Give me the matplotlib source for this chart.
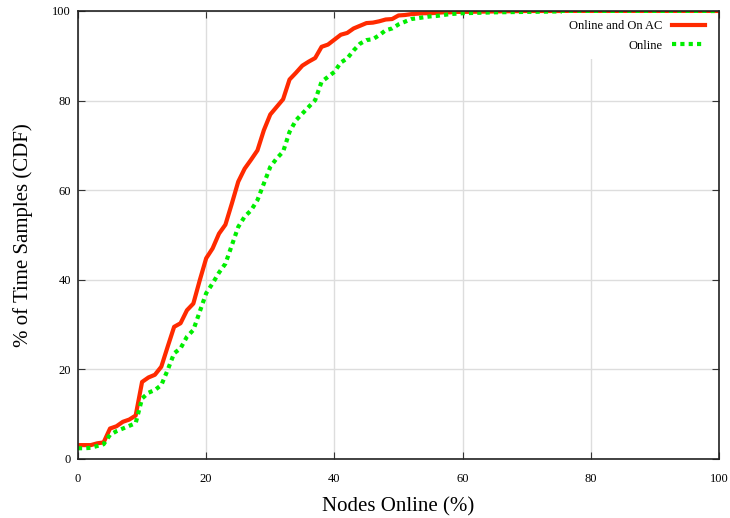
import numpy as np
import matplotlib
matplotlib.use("Agg")
import matplotlib.pyplot as plt

plt.rcParams['font.family'] = ['Liberation Serif', 'DejaVu Serif']

nodes_ac = list(range(0, 61)) + [65, 70, 100]
cdf_ac = [3.1, 3.1, 3.1, 3.5, 3.7, 6.8, 7.3, 8.3, 8.8, 9.7,
          17.2, 18.2, 18.8, 20.6, 25.1, 29.5, 30.3, 33.2, 34.7, 39.9,
          44.8, 47.0, 50.3, 52.3, 57.0, 61.9, 64.8, 66.8, 68.9, 73.4,
          76.9, 78.6, 80.3, 84.7, 86.2, 87.8, 88.7, 89.5, 92.0, 92.5,
          93.6, 94.7, 95.1, 96.1, 96.7, 97.3, 97.4, 97.7, 98.1, 98.2,
          99.0, 99.1, 99.3, 99.4, 99.5, 99.5, 99.6, 99.7, 99.7, 99.8,
          99.8, 99.9, 100.0, 100.0]

nodes_on = list(range(0, 61)) + [65, 75, 100]
cdf_on = [2.4, 2.4, 2.5, 2.9, 3.3, 5.4, 6.2, 6.8, 7.4, 8.0,
          13.5, 14.8, 15.4, 16.5, 19.9, 23.6, 24.7, 27.3, 28.8, 32.9,
          37.0, 39.2, 41.6, 43.6, 47.7, 51.8, 54.1, 55.5, 57.8, 61.5,
          65.2, 67.1, 68.6, 73.0, 75.6, 77.1, 78.6, 80.1, 84.2, 85.3,
          86.4, 88.5, 89.4, 91.2, 92.7, 93.5, 93.7, 94.6, 95.7, 96.1,
          97.0, 97.6, 98.2, 98.4, 98.6, 98.8, 98.9, 99.1, 99.3, 99.4,
          99.5, 99.7, 99.9, 100.0]

fig = plt.figure(figsize=(7.30, 5.18), dpi=100)
ax = fig.add_axes([0.1068, 0.1139, 0.8782, 0.8649])

ax.plot(nodes_ac, cdf_ac, color='#ff2a00', lw=3, label='Online and On AC')
ax.plot(nodes_on, cdf_on, color='#00ee00', lw=3, dashes=(1.0, 1.0),
        label='Online')

ax.set_xlim(0, 100)
ax.set_ylim(0, 100)
ax.set_xticks([0, 20, 40, 60, 80, 100])
ax.set_yticks([0, 20, 40, 60, 80, 100])
ax.grid(True, color='#dddddd', lw=1)
ax.set_axisbelow(True)
ax.tick_params(direction='in', length=5, top=True, right=True,
               labelsize=9, color='#333333')
ax.tick_params(axis='y', pad=5)
ax.tick_params(axis='x', pad=10)
for s in ax.spines.values():
    s.set_color('#222222')
    s.set_linewidth(1.2)

ax.set_xlabel('Nodes Online (%)', fontsize=15)
ax.set_ylabel('% of Time Samples (CDF)', fontsize=15)
ax.xaxis.set_label_coords(0.5, -0.085)
ax.yaxis.set_label_coords(-0.07, 0.5)

leg = ax.legend(loc='upper right', bbox_to_anchor=(0.992, 1.0),
                markerfirst=False, fontsize=9,
                frameon=True, fancybox=False, handlelength=2.6,
                handletextpad=0.8, borderaxespad=0.2, borderpad=0.55,
                labelspacing=0.6)
leg.get_frame().set_edgecolor('none')
leg.get_frame().set_facecolor('white')
leg.get_frame().set_alpha(1)

fig.savefig('out.png', dpi=100)
